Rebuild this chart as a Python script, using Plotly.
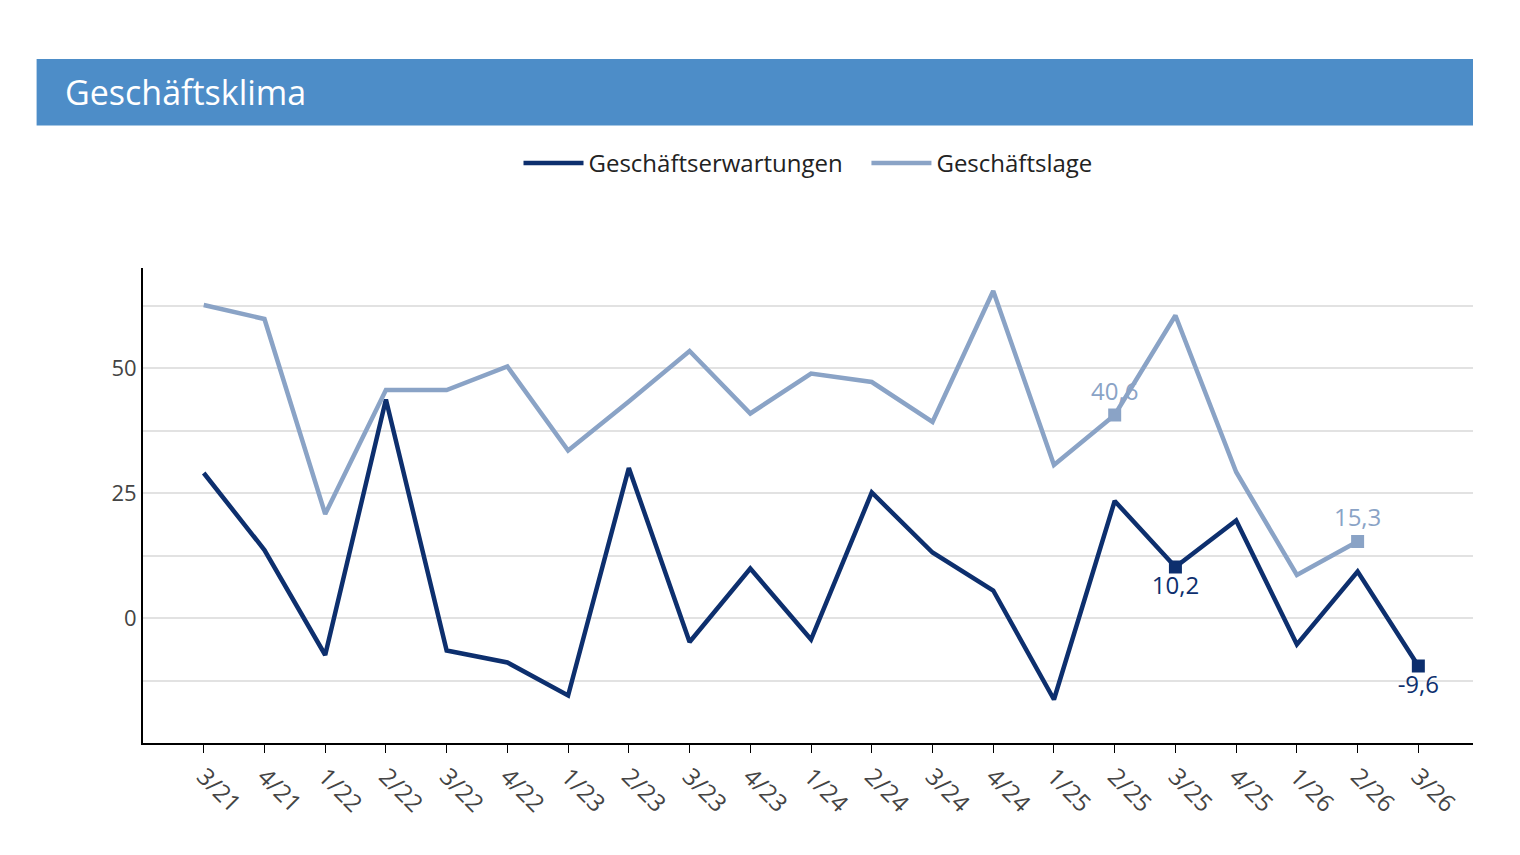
import plotly.graph_objects as go

categories = ["3/21","4/21","1/22","2/22","3/22","4/22","1/23","2/23","3/23","4/23",
              "1/24","2/24","3/24","4/24","1/25","2/25","3/25","4/25","1/26","2/26","3/26"]
erwartungen = [29.0,13.6,-7.4,43.7,-6.5,-8.9,-15.5,30.0,-4.8,9.9,
               -4.3,25.1,13.1,5.5,-16.3,23.4,10.2,19.5,-5.3,9.3,-9.6]
lage = [62.6,59.8,20.8,45.6,45.6,50.3,33.5,43.3,53.4,40.9,
        48.9,47.2,39.2,65.4,30.6,40.6,60.5,29.2,8.6,15.3,None]
tick_vals = [-12.5,0,12.5,25,37.5,50,62.5]
tick_text = ["","0","","25","","50",""]
erw_labels = {"3/25":"10,2","3/26":"-9,6"}
lage_labels = {"2/25":"40,6","2/26":"15,3"}

dark = "#0d2f6e"; light = "#8aa3c6"
fig = go.Figure()
fig.add_trace(go.Scatter(x=categories, y=erwartungen, mode="lines", name="Geschäftserwartungen   ",
                         line=dict(color=dark, width=4.5)))
fig.add_trace(go.Scatter(x=categories, y=lage, mode="lines", name="Geschäftslage",
                         line=dict(color=light, width=4.5)))
fig.add_trace(go.Scatter(x=list(erw_labels), y=[erwartungen[categories.index(c)] for c in erw_labels],
                         mode="markers+text", text=list(erw_labels.values()), textposition="bottom center",
                         marker=dict(symbol="square", size=13, color=dark), cliponaxis=False,
                         textfont=dict(color=dark, size=24), showlegend=False))
fig.add_trace(go.Scatter(x=list(lage_labels), y=[lage[categories.index(c)] for c in lage_labels],
                         mode="markers+text", text=list(lage_labels.values()), textposition="top center",
                         marker=dict(symbol="square", size=13, color=light), cliponaxis=False,
                         textfont=dict(color=light, size=24), showlegend=False))

fig.add_shape(type="rect", xref="paper", yref="paper", x0=-0.08, x1=1.0, y0=1.30, y1=1.44,
              fillcolor="#4d8dc8", line_width=0, layer="below")
fig.add_annotation(text="Geschäftsklima", xref="paper", yref="paper", x=-0.06, y=1.37,
                   xanchor="left", yanchor="middle", showarrow=False,
                   font=dict(color="white", size=34))

fig.update_layout(
    width=1520, height=855, paper_bgcolor="white", plot_bgcolor="white",
    margin=dict(l=135, r=55, t=260, b=120),
    font=dict(family="Open Sans", size=22, color="#333"),
    legend=dict(orientation="h", x=0.5, xanchor="center", y=1.22, yanchor="middle",
                font=dict(size=24, color="#222"), itemwidth=60),
    xaxis=dict(type="category", range=[-1, 20.9], tickangle=45, showline=True, linecolor="black", linewidth=2,
               ticks="outside", ticklen=8, tickcolor="black", showgrid=False,
               tickfont=dict(size=24, color="#444")),
    yaxis=dict(range=[-25, 70], tickvals=tick_vals, ticktext=tick_text, showline=True,
               linecolor="black", linewidth=2, gridcolor="#e2e2e2", gridwidth=1.5,
               zeroline=False, tickfont=dict(size=22, color="#444")),
)
fig.write_html("out.html")
